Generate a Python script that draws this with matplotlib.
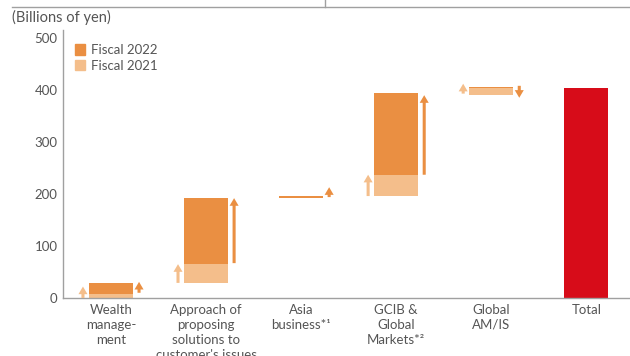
import matplotlib.pyplot as plt
from matplotlib.patches import Patch
from matplotlib.lines import Line2D

plt.rcParams['font.family'] = ['Lato', 'DejaVu Sans']

# data (billions of yen)
categories = ["Wealth\nmanage-\nment",
              "Approach of\nproposing\nsolutions to\ncustomer's issues",
              "Asia\nbusiness*¹",
              "GCIB &\nGlobal\nMarkets*²",
              "Global\nAM/IS",
              "Total"]
bar_base = [0, 29, 192, 196, 390]
fy2021_top = [8, 65, 192, 237, 404]
fy2022_top = [29, 192, 197, 394, 406]
total = 404

# arrows: start / end values
arrow21_from = [0, 29, None, 196, 393]
arrow21_to = [22, 65, None, 237, 412]
arrow22_from = [10, 67, 194, 237, 408]
arrow22_to = [31, 192, 213, 390, 385]

c22 = '#EA8F42'
c21 = '#F4BE8B'
red = '#D70C19'
grey = '#555555'

fig = plt.figure(figsize=(6.3, 3.56), dpi=100)
ax = fig.add_axes([0.1, 0.163, 0.9, 0.7537])

arrow_style = 'simple,head_length=0.55,head_width=0.65,tail_width=0.22'


def draw_arrow(x, y0, y1, color):
    ax.annotate('', xy=(x, y1), xytext=(x, y0),
                arrowprops=dict(arrowstyle=arrow_style, color=color, lw=0,
                                mutation_scale=10, shrinkA=0, shrinkB=0))


w = 0.46
for i in range(len(bar_base)):
    ax.bar(i, fy2021_top[i] - bar_base[i], bottom=bar_base[i], width=w, color=c21)
    ax.bar(i, fy2022_top[i] - fy2021_top[i], bottom=fy2021_top[i], width=w, color=c22)
    if arrow21_from[i] is not None:
        draw_arrow(i - 0.295, arrow21_from[i], arrow21_to[i], c21)
    draw_arrow(i + 0.295, arrow22_from[i], arrow22_to[i], c22)
ax.bar(5, total, width=w, color=red)

ax.set_xlim(-0.505, 5.46)
ax.set_ylim(0, 516)
ax.set_yticks([0, 100, 200, 300, 400, 500])
ax.set_xticks(range(len(categories)))
ax.set_xticklabels(categories, va='top', linespacing=1.3)
ax.tick_params(axis='both', length=0, colors=grey, labelsize=9.5, pad=4)
for s in ['top', 'right']:
    ax.spines[s].set_visible(False)
for s in ['left', 'bottom']:
    ax.spines[s].set_color('#A0A0A0')
    ax.spines[s].set_linewidth(1)

ax.legend(handles=[Patch(color=c22, label='Fiscal 2022'), Patch(color=c21, label='Fiscal 2021')],
          loc='upper left', bbox_to_anchor=(0.0, 0.99), frameon=False, fontsize=9.5,
          handlelength=0.75, handleheight=0.9, handletextpad=0.5, labelspacing=0.25,
          labelcolor=grey)

fig.text(0.019, 0.952, '(Billions of yen)', fontsize=10.5, color=grey, va='center')

# header rule cut off at the top
fig.add_artist(Line2D([12 / 630, 1], [1 - 7 / 356, 1 - 7 / 356], color='#A0A0A0', lw=1))
fig.add_artist(Line2D([325 / 630, 325 / 630], [1 - 7 / 356, 1], color='#A0A0A0', lw=1))

fig.savefig('out.png', dpi=100)
